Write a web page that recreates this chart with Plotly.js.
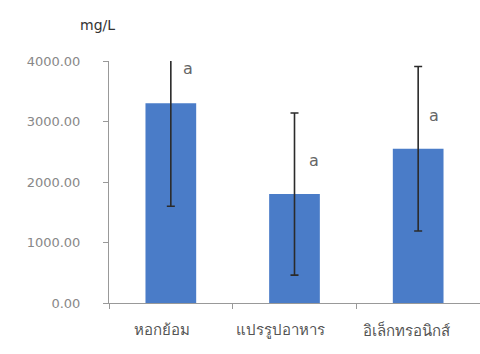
<!DOCTYPE html>
<html>
<head>
<meta charset="utf-8">
<script src="https://cdn.plot.ly/plotly-3.0.1.min.js"></script>
<style>html,body{margin:0;padding:0;background:#fff;}#chart{width:480px;height:354px;}</style>
</head>
<body>
<div id="chart"></div>
<script>
const categories = ["หอกย้อม", "แปรรูปอาหาร", "อิเล็กทรอนิกส์"];
const means = [3300, 1800, 2550];
const errors = [1700, 1340, 1360];
const groupLabels = ["a", "a", "a"];
const labelY = [3880, 2360, 3100];
const yTicks = [0, 1000, 2000, 3000, 4000];
const yTickText = ["0.00", "1000.00", "2000.00", "3000.00", "4000.00"];

const trace = {
  type: "bar",
  x: categories,
  y: means,
  width: 0.41,
  marker: {color: "#4a7cc8"},
  error_y: {type: "data", array: errors, visible: true, color: "#2b2b2b", thickness: 1.6, width: 4},
  hoverinfo: "none"
};

const shifts = [17, 19, 16];
const annotations = groupLabels.map((t, i) => ({
  x: categories[i], y: labelY[i], xref: "x", yref: "y", text: t, showarrow: false,
  xshift: shifts[i], font: {size: 16, color: "#666", family: "DejaVu Sans"}
}));
// category labels (slightly left of the bars, as in the original)
const labelShift = [-9, -14, -12];
categories.forEach((c, i) => {
  annotations.push({
    x: c, y: 0, xref: "x", yref: "paper", text: c, showarrow: false,
    xanchor: "center", yanchor: "middle", xshift: labelShift[i], yshift: -27,
    font: {size: 15, color: "#555", family: "DejaVu Sans, Noto Sans"}
  });
});
annotations.push({
  x: (97 - 109) / 371, y: 1 + (61 - 25) / 242, xref: "paper", yref: "paper", text: "mg/L", showarrow: false,
  xanchor: "center", yanchor: "middle",
  font: {size: 14, color: "#333", family: "DejaVu Sans"}
});

const layout = {
  width: 480, height: 354,
  margin: {l: 109, r: 0, t: 61, b: 51},
  paper_bgcolor: "#fff", plot_bgcolor: "#fff",
  showlegend: false,
  xaxis: {
    type: "category", tickson: "boundaries", ticks: "outside", ticklen: 5, tickcolor: "#999",
    showline: true, linecolor: "#999", linewidth: 1, range: [-0.5, 2.5],
    showticklabels: false, showgrid: false, zeroline: false
  },
  yaxis: {
    range: [0, 4000], tickvals: yTicks, ticktext: yTickText, ticks: "outside", ticklen: 5, tickcolor: "#999",
    showline: true, linecolor: "#999", linewidth: 1, showgrid: false, zeroline: false,
    ticklabelstandoff: 20,
    tickfont: {size: 13, color: "#888", family: "DejaVu Sans"}
  },
  annotations: annotations
};

Plotly.newPlot("chart", [trace], layout, {staticPlot: true, displayModeBar: false});
</script>
</body>
</html>
